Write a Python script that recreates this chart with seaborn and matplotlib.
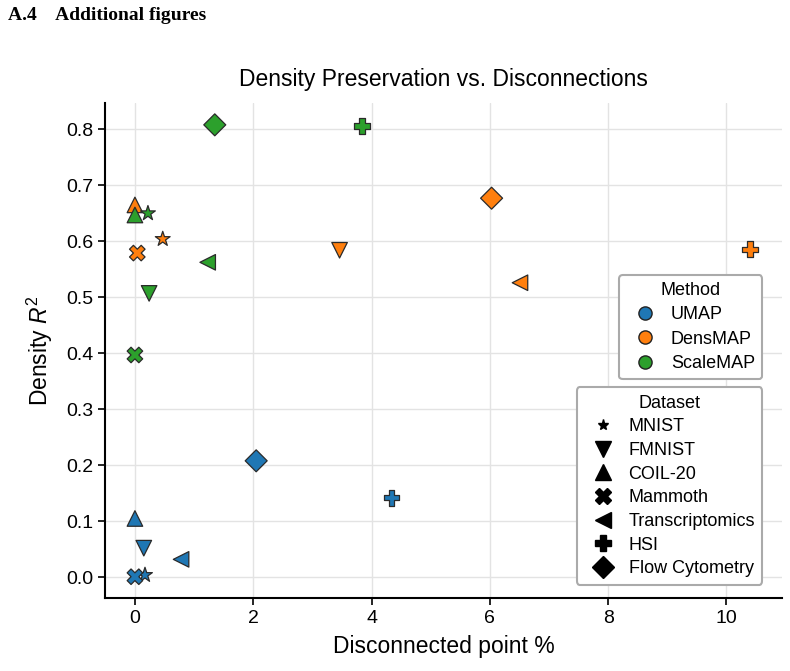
import matplotlib
matplotlib.use("Agg")
import matplotlib.pyplot as plt
from matplotlib.lines import Line2D
import seaborn as sns
import pandas as pd

methods = ["UMAP", "DensMAP", "ScaleMAP"]
datasets = ["MNIST", "FMNIST", "COIL-20", "Mammoth", "Transcriptomics", "HSI", "Flow Cytometry"]

# disconnected point % per dataset (same order as datasets)
umap_x = [0.17, 0.15, 0.0, 0.0, 0.78, 4.34, 2.05]
umap_y = [0.004, 0.052, 0.105, 0.001, 0.032, 0.142, 0.208]
densmap_x = [0.47, 3.46, 0.0, 0.04, 6.51, 10.40, 6.03]
densmap_y = [0.604, 0.584, 0.665, 0.579, 0.526, 0.586, 0.677]
scalemap_x = [0.22, 0.24, 0.0, 0.0, 1.23, 3.84, 1.35]
scalemap_y = [0.650, 0.507, 0.647, 0.397, 0.5625, 0.806, 0.808]

colors = {"UMAP": "#1f77b4", "DensMAP": "#ff7f0e", "ScaleMAP": "#2ca02c"}
marker_map = {"MNIST": "*", "FMNIST": "v", "COIL-20": "^", "Mammoth": "X",
              "Transcriptomics": "<", "HSI": "P", "Flow Cytometry": "D"}

rows = []
for m, xs, ys in [("UMAP", umap_x, umap_y), ("DensMAP", densmap_x, densmap_y),
                  ("ScaleMAP", scalemap_x, scalemap_y)]:
    for d, xv, yv in zip(datasets, xs, ys):
        rows.append({"Method": m, "Dataset": d, "x": xv, "y": yv})
df = pd.DataFrame(rows)

sns.set_theme(style="ticks")
plt.rcParams["font.family"] = ["Liberation Sans", "DejaVu Sans"]
plt.rcParams["mathtext.fontset"] = "custom"
plt.rcParams["mathtext.rm"] = "Liberation Sans"
plt.rcParams["mathtext.it"] = "Liberation Sans:italic"
plt.rcParams["text.color"] = "black"
plt.rcParams["axes.labelcolor"] = "black"
plt.rcParams["xtick.color"] = "black"
plt.rcParams["ytick.color"] = "black"

fig = plt.figure(figsize=(7.9, 6.71), dpi=100)
L, R, T, B = 105, 782, 103, 598
ax = fig.add_axes([L / 790, 1 - B / 671, (R - L) / 790, (B - T) / 671])

sns.scatterplot(data=df, x="x", y="y", hue="Method", style="Dataset",
                palette=colors, markers=marker_map, hue_order=methods,
                style_order=datasets, s=125, edgecolor="#2a2a2a",
                linewidth=0.9, legend=False, ax=ax, zorder=3)

ax.set_xlim(-0.506, 10.94)
ax.set_ylim(-0.037, 0.847)
ax.set_xticks([0, 2, 4, 6, 8, 10])
ax.set_yticks([0.0, 0.1, 0.2, 0.3, 0.4, 0.5, 0.6, 0.7, 0.8])
ax.set_yticklabels([f"{v:.1f}" for v in ax.get_yticks()])
ax.grid(True, color="#e3e3e3", linewidth=1.0, zorder=0)
ax.set_axisbelow(True)
sns.despine(ax=ax)
for sp in ["left", "bottom"]:
    ax.spines[sp].set_linewidth(1.5)
    ax.spines[sp].set_color("black")
ax.tick_params(axis="both", labelsize=14, length=5, width=1.2, color="black", labelcolor="black")

ax.set_xlabel("Disconnected point %", fontsize=16.5, labelpad=6)
ax.set_ylabel("Density $R^2$", fontsize=16.5, labelpad=8)
ax.set_title("Density Preservation vs. Disconnections", fontsize=16.5, pad=12)

method_handles = [Line2D([0], [0], marker="o", linestyle="", markerfacecolor=colors[m],
                         markeredgecolor="#222222", markeredgewidth=1.0, markersize=9.5)
                  for m in methods]
leg1 = ax.legend(method_handles, methods, title="Method", loc="upper right",
                 bbox_to_anchor=((762.3 - L) / (R - L), (B - 275) / (B - T)),
                 borderaxespad=0, fontsize=13, title_fontsize=13, frameon=True,
                 framealpha=1, edgecolor="#aaaaaa", handlelength=2.08,
                 handletextpad=0.4, labelspacing=0.4, borderpad=0.4)
leg1.get_frame().set_linewidth(1.5)
ax.add_artist(leg1)

dataset_handles = [Line2D([0], [0], marker=marker_map[d], linestyle="", markerfacecolor="black",
                          markeredgecolor="black", markersize=11 if d != "MNIST" else 8)
                   for d in datasets]
leg2 = ax.legend(dataset_handles, datasets, title="Dataset", loc="upper right",
                 bbox_to_anchor=((762.3 - L) / (R - L), (B - 387.3) / (B - T)),
                 borderaxespad=0, fontsize=13, title_fontsize=13, frameon=True,
                 framealpha=1, edgecolor="#aaaaaa", handlelength=2.08,
                 handletextpad=0.4, labelspacing=0.37, borderpad=0.4)
leg2.get_frame().set_linewidth(1.5)

fig.text(8 / 790, 1 - 7 / 671, "A.4    Additional figures", fontsize=14,
         fontweight="bold", family=["Liberation Serif", "DejaVu Serif"], va="top", ha="left")

fig.savefig("out.png", dpi=100)
